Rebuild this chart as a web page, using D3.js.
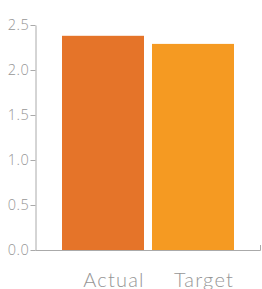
<!DOCTYPE html>
<html>
<head>
<meta charset="utf-8">
<script src="https://cdn.jsdelivr.net/npm/d3@7"></script>
<style>
  body { margin: 0; background: #fff; }
  svg { display: block; }
  .y-axis text { font-family: "Open Sans", sans-serif; font-weight: 300; font-size: 14.5px; letter-spacing: 0.6px; fill: #969696; }
  .y-axis path, .y-axis line { stroke: #aaa; }
  .xlab { font-family: "Lato", "Open Sans", sans-serif; font-weight: 300; font-size: 20px; letter-spacing: 1.2px; fill: #969696; }
</style>
</head>
<body>
<svg id="chart" width="262" height="289"></svg>
<script>
  var categories = ['Actual', 'Target'];
  var values = [2.38, 2.29];
  var barColors = ['#e57429', '#f59a22'];
  var yTicks = [0, 0.5, 1.0, 1.5, 2.0, 2.5];

  var svg = d3.select('#chart');

  var y = d3.scaleLinear().domain([0, 2.5]).range([250, 25]);
  var x = d3.scaleBand().domain(categories).range([62, 234])
    .paddingInner(8 / 90).paddingOuter(0);

  // y axis
  svg.append('g')
    .attr('class', 'y-axis')
    .attr('transform', 'translate(35.5,0)')
    .call(d3.axisLeft(y).tickValues(yTicks).tickFormat(d3.format('.1f'))
      .tickSize(5).tickSizeOuter(0).tickPadding(1));

  // bars
  svg.selectAll('rect.bar')
    .data(values)
    .enter().append('rect')
    .attr('class', 'bar')
    .attr('x', function (d, i) { return x(categories[i]); })
    .attr('width', x.bandwidth())
    .attr('y', function (d) { return y(d); })
    .attr('height', function (d) { return y(0) - y(d); })
    .attr('fill', function (d, i) { return barColors[i]; });

  // x baseline with small end tick
  svg.append('path')
    .attr('d', 'M35.5,250.5H260.5V245')
    .attr('fill', 'none')
    .attr('stroke', '#aaa');

  // category labels
  svg.selectAll('text.xlab')
    .data(categories)
    .enter().append('text')
    .attr('class', 'xlab')
    .attr('x', function (d) { return x(d) + x.bandwidth() / 2 + 11; })
    .attr('y', 287)
    .attr('text-anchor', 'middle')
    .text(function (d) { return d; });
</script>
</body>
</html>
